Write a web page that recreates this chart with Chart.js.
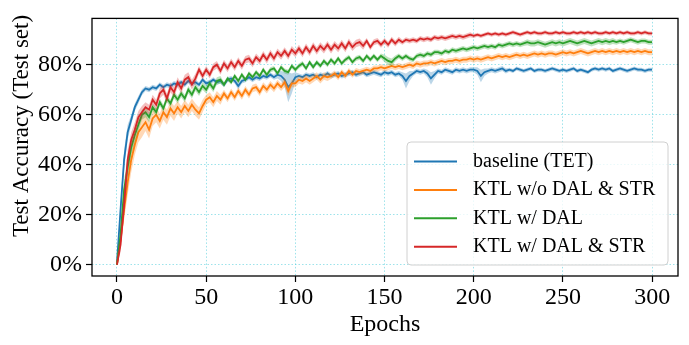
<!DOCTYPE html>
<html><head><meta charset="utf-8">
<script src="https://cdn.jsdelivr.net/npm/chart.js@4.4.1/dist/chart.umd.min.js"></script>
<style>html,body{margin:0;padding:0;background:#fff;}#wrap{width:689px;height:345px;}</style>
</head><body><div id="wrap"><canvas id="c" width="689" height="345"></canvas></div>
<script>
const seriesLabels = ['baseline (TET)', 'KTL w/o DAL & STR', 'KTL w/ DAL', 'KTL w/ DAL & STR'];
const seriesColors = ['#1f77b4', '#ff7f0e', '#2ca02c', '#d62728'];
const xTickValues = [0, 50, 100, 150, 200, 250, 300];
const yTickValues = [0, 20, 40, 60, 80];
const xAxisTitle = 'Epochs';
const yAxisTitle = 'Test Accuracy (Test set)';

// epochs 0,2,4,...,300
const epochs = [];
for (let e = 0; e <= 300; e += 2) epochs.push(e);

const baselineAcc = [
 1,22,42,53,58,63,66,69,70.5,70,
 71,70.5,72,71,72,71.5,72.5,72,73,72,
 73.5,72.5,73,72,74,72.5,73,74,73,73.5,
 72,74,74.5,73.5,71.5,73.5,74,75,74,75,
 74.5,75.5,75,76,75,76,75.5,74,71,72.5,
 75,75.5,75,76,75.5,76,75,76,75.5,76.5,
 75.5,76,76.5,75.5,76,76.5,77,76,76.5,77,
 76,76.5,77,76.5,76,77,76.5,77,76,76.5,
 75.5,73.5,75.5,76.5,77.5,77,77.5,76.5,74.5,76,
 77.5,77,78,77.5,77,78,77.5,78,77.5,78,
 78,77.5,75.5,77,77.5,78,77.5,78,78.5,77.5,
 78,77.5,78.5,78,77.5,78,78.5,77.5,78,78,
 77.5,78,78.5,78,77.5,78,77.5,78,78.5,77.5,
 78,77.5,77,78,78.5,78,78.5,78,78.5,77.5,
 78,78.5,78,77.5,78,78.5,78,78,77.5,78,
 78];
const baselineSpread = [
 0,3,4,3,2,1.5,1.5,1.2,1,1,
 1,1,1,1,1,1,1,1,1,1,
 1,1,1,1,1,1,1,1,1,1,
 1,1,1,1,1.5,1,1,1,1,1,
 1,1,1,1,1,1.5,2,3,6,4,
 2,1,1,1,1,1,1,1,1,1,
 1,1,1,1,1,1,1,1,1,1,
 1,1,1,1,1,1,1,1,1,1,
 1.5,3,2,1,1,1,1,1.5,2.5,1.5,
 1,1,1,1,1,1,1,1,1,1,
 1,1.5,2.5,1.5,1,1,1,1,1,1,
 0.8,0.8,0.8,0.8,0.8,0.8,0.8,0.8,0.8,0.8,
 0.8,0.8,0.8,0.8,0.8,0.8,0.8,0.8,0.8,0.8,
 0.8,0.8,0.8,0.8,0.8,0.8,0.8,0.8,0.8,0.8,
 0.8,0.8,0.8,0.8,0.8,0.8,0.8,0.8,0.8,0.8,
 0.8];

const woDalStrAcc = [
 0,10,22,33,42,48,53,55,57,54,
 58.5,60,57.5,61,59,62.5,60.5,63,61,63.5,
 61.5,64,62,60.5,63.5,66,67,65,67.5,66,
 68.5,66.5,69,67,69.5,67.5,70,68,70.5,71,
 69,71.5,70,72,70.5,72.5,71,73,69.5,72.5,
 72.5,74,73.5,74.5,73.5,74.5,75.5,74,75.5,75,
 75.5,76.5,75,77,75.5,77.5,76,77.5,77,77.5,
 78,77.5,78.5,78.5,79,78.5,79,79.5,79,79.5,
 79,79.5,80,79.5,80.5,80,80.5,80.5,81,80.5,
 81,81.5,81,81.5,81.5,82,81.5,82,82,82.5,
 82,82.5,82,82.5,83,82.5,83,83.5,83,83.5,
 83,83.5,84,83.5,84,83.5,84,84.5,84,84.5,
 84,84.5,84.5,84,84.5,85,84.5,85,84.5,85,
 85.5,85,84.5,85,85.5,85,85.5,85,85.5,85,
 85.5,85,85.5,85,85.5,85,85.5,85,85.5,85,
 85];
const woDalStrSpread = [
 0,3,4,5,5,4,4,4,3.5,3.5,
 3,3,3,3,3,3,3,2.5,2.5,2.5,
 2.5,2.5,2.5,2.5,2.5,2,2,2,2,2,
 1.5,1.5,1.5,1.5,1.5,1.5,1.5,1.5,1.5,1.5,
 1.5,1.5,1.5,1.5,1.5,1.5,1.5,2,2,1.5,
 1.5,1.5,1.5,1.5,1.5,1.5,1.5,1.5,1.5,1.5,
 1.2,1.2,1.2,1.2,1.2,1.2,1.2,1.2,1.2,1.2,
 1.2,1.2,1.2,1.2,1.2,1.2,1.2,1.2,1.2,1.2,
 1.2,1.2,1.2,1.2,1.2,1.2,1.2,1.2,1.2,1.2,
 1.2,1.2,1.2,1.2,1.2,1.2,1.2,1.2,1.2,1.2,
 1.2,1.2,1.2,1.2,1.2,1.2,1.2,1.2,1.2,1.2,
 1.2,1.2,1.2,1.2,1.2,1.2,1.2,1.2,1.2,1.2,
 1.2,1.2,1.2,1.2,1.2,1.2,1.2,1.2,1.2,1.2,
 1.2,1.2,1.2,1.2,1.2,1.2,1.2,1.2,1.2,1.2,
 1.2,1.2,1.2,1.2,1.2,1.2,1.2,1.2,1.2,1.2,
 1.2];

const wDalAcc = [
 0,12,30,39,47,52,56,60,61,59,
 63,61,65,62.5,66.5,64.5,68,66,68.5,66.5,
 70,68,71,69,71.5,70,72.5,70.5,73.5,74,
 72,74.5,73,75.5,73.5,76,74,76.5,75,77,
 75.5,78,76,78,78.5,76.5,79,77.5,77,79.5,
 78,79.5,80.5,78.5,81,79,81,79.5,81.5,80,
 82,80.5,82.5,80.5,82,83,81,82.5,83,81.5,
 83.5,82,83.5,82,83.5,82.5,81.5,81,82.5,83.5,
 82.5,83.5,82.5,82,83.5,84,83.5,84.5,84,85,
 85,84.5,85.5,85,86,85.5,86,86.5,86,86.5,
 87,86.5,87,87.5,87,87.5,87,88,87.5,88,
 88.5,88,88.5,88,88.5,89,88.5,88.5,89,88.5,
 88,88.5,89,88.5,89,88.5,89,89.5,89,88.5,
 89,89.5,89,88.5,89,89.5,89,89.5,89,89.5,
 89,89.5,89,89.5,90,89.5,89,89.5,89.5,89,
 89];
const wDalSpread = [
 0,3,4,4,3,3,2.5,2,2,2,
 1.5,1.5,1.5,1.5,1.5,1.5,1.5,1.5,1.5,1.5,
 1.5,1.5,1.5,1.5,1.5,1.5,1.5,1.5,1.5,1.5,
 1,1,1,1,1,1,1,1,1,1,
 1,1,1,1,1,1,1,1,1,1,
 1,1,1,1,1,1,1,1,1,1,
 1,1,1,1,1,1,1,1,1,1,
 1,1,1,1,1,1.5,1.5,1.5,1.2,1,
 1,1,1,1,1,1,1,1,1,1,
 1,1,1,1,1,1,1,1,1,1,
 1,1,1,1,1,1,1,1,1,1,
 1,1,1,1,1,1.2,1.2,1.2,1.2,1.2,
 1.2,1.2,1.2,1.2,1.2,1.2,1.2,1.2,1.2,1.2,
 1.2,1.2,1.2,1.2,1.2,1.2,1.2,1.2,1.2,1.2,
 1,1,1,1,1,1,1,1,1,1,
 1];

const wDalStrAcc = [
 0,8,24,42,50,54,59,61,63,62,
 66,64,68.5,70,66.5,71,69,73,70.5,74,
 75,72,74.5,78,75.5,78,76,79,80,77.5,
 80.5,78.5,81,79,81.5,79.5,82,82.5,80.5,83,
 81.5,84,82,84.5,82.5,85,83.5,85.5,83.5,86,
 84.5,86.5,84.5,87,85,87.5,85.5,87.5,86,88,
 86,88,86.5,88.5,86.5,89,87,88.5,89,87.5,
 89.5,87,89,89.5,88,89.5,88,90,88.5,90,
 89,90,89.5,90,89.5,90.5,90,90.5,90,91,
 90.5,91,90.5,91,91.5,91,91.5,91,91.5,92,
 91.5,92,91.5,92,92.5,92,92.5,92,92.5,92,
 92.5,93,92.5,92,92.5,93,92.5,93,92.5,92.5,
 93,92.5,92.5,93,92.5,93,92.5,92.5,93,92.5,
 93,92.5,93,92.5,93,92.5,92.5,93,92.5,93,
 92.5,93,92.5,93,92.5,92.5,93,92.5,93,92.5,
 92.5];
const wDalStrSpread = [
 0,3,4,4,3,3,2.5,2.5,2,2,
 2,2,2,2,2,2,2,2,2,2,
 2,2,2,1.5,1.5,1.5,1.5,1.5,1.5,1.5,
 1.5,1.5,1.5,1.5,1.5,1.5,1.5,1.5,1.5,1.5,
 1.5,1.5,1.5,1.5,1.5,1.5,1.5,1.5,1.5,1.5,
 1.5,1.5,1.5,1.5,1.5,1.5,1.5,1.5,1.5,1.5,
 1.5,1.5,1.5,1.5,1.5,1.5,1.5,1.5,1.5,1.5,
 1.2,1.2,1.2,1.2,1.2,1.2,1.2,1.2,1.2,1.2,
 1,1,1,1,1,1,1,1,1,1,
 1,1,1,1,1,1,1,1,1,1,
 0.8,0.8,0.8,0.8,0.8,0.8,0.8,0.8,0.8,0.8,
 0.8,0.8,0.8,0.8,0.8,0.8,0.8,0.8,0.8,0.8,
 0.8,0.8,0.8,0.8,0.8,0.8,0.8,0.8,0.8,0.8,
 0.8,0.8,0.8,0.8,0.8,0.8,0.8,0.8,0.8,0.8,
 0.8,0.8,0.8,0.8,0.8,0.8,0.8,0.8,0.8,0.8,
 0.8];

const seriesMeans = [baselineAcc, woDalStrAcc, wDalAcc, wDalStrAcc];
const seriesSpreads = [baselineSpread, woDalStrSpread, wDalSpread, wDalStrSpread];

const FONT = "'Liberation Serif', 'Times New Roman', serif";

function hexA(hex, a) {
  const n = parseInt(hex.slice(1), 16);
  return `rgba(${(n >> 16) & 255},${(n >> 8) & 255},${n & 255},${a})`;
}

const datasets = [];
seriesMeans.forEach((mean, i) => {
  const sp = seriesSpreads[i];
  const order = 2 * (seriesMeans.length - i);
  datasets.push({
    label: '_upper' + i,
    data: epochs.map((e, k) => ({ x: e, y: mean[k] + sp[k] })),
    borderWidth: 0, pointRadius: 0, fill: false, order: order,
    borderColor: 'rgba(0,0,0,0)'
  });
  datasets.push({
    label: '_lower' + i,
    data: epochs.map((e, k) => ({ x: e, y: mean[k] - sp[k] })),
    borderWidth: 0, pointRadius: 0, fill: '-1', order: order,
    borderColor: 'rgba(0,0,0,0)', backgroundColor: hexA(seriesColors[i], 0.3)
  });
  datasets.push({
    label: seriesLabels[i],
    data: epochs.map((e, k) => ({ x: e, y: mean[k] })),
    borderColor: seriesColors[i], borderWidth: 1.8, pointRadius: 0,
    fill: false, tension: 0, order: order - 1
  });
});

const framePlugin = {
  id: 'frame',
  afterDatasetsDraw(chart) {
    const { ctx, chartArea: a } = chart;
    ctx.save();
    ctx.strokeStyle = '#000';
    ctx.lineWidth = 1.3;
    ctx.strokeRect(a.left, a.top, a.right - a.left, a.bottom - a.top);
    ctx.restore();
  }
};

const yTitlePlugin = {
  id: 'ytitle',
  afterDraw(chart) {
    const { ctx } = chart;
    ctx.save();
    ctx.translate(22, 126);
    ctx.rotate(-Math.PI / 2);
    ctx.font = `23px ${FONT}`;
    ctx.fillStyle = '#000';
    ctx.textAlign = 'center';
    ctx.textBaseline = 'middle';
    ctx.fillText(yAxisTitle, 0, 0);
    ctx.restore();
  }
};

const legendPlugin = {
  id: 'innerLegend',
  afterDraw(chart) {
    const { ctx, chartArea: a } = chart;
    const w = 261, h = 123;
    const x = a.right - 10 - w, y = a.bottom - 11 - h;
    ctx.save();
    ctx.beginPath();
    ctx.roundRect(x, y, w, h, 4);
    ctx.fillStyle = 'rgba(255,255,255,0.8)';
    ctx.fill();
    ctx.strokeStyle = '#d0d0d0';
    ctx.lineWidth = 1;
    ctx.stroke();
    ctx.font = `20px ${FONT}`;
    ctx.textBaseline = 'middle';
    ctx.textAlign = 'left';
    seriesLabels.forEach((lab, i) => {
      const ry = y + 19.5 + i * 28.4;
      ctx.strokeStyle = seriesColors[i];
      ctx.lineWidth = 2;
      ctx.beginPath();
      ctx.moveTo(x + 7, ry);
      ctx.lineTo(x + 50, ry);
      ctx.stroke();
      ctx.fillStyle = '#000';
      ctx.fillText(lab, x + 66, ry);
    });
    ctx.restore();
  }
};

const gridColor = 'rgba(60,200,215,0.5)';

new Chart(document.getElementById('c'), {
  type: 'line',
  data: { datasets },
  options: {
    responsive: false,
    animation: false,
    devicePixelRatio: 1,
    layout: { padding: { left: 0, right: 11, top: 10, bottom: 0 } },
    plugins: { legend: { display: false }, tooltip: { enabled: false }, filler: { propagate: false } },
    scales: {
      x: {
        type: 'linear', min: -14, max: 314.5,
        afterBuildTicks: s => { s.ticks = xTickValues.map(v => ({ value: v })); },
        afterFit: s => { s.height = 69; },
        ticks: { font: { family: FONT, size: 24 }, color: '#000', padding: 1, maxRotation: 0, autoSkip: false },
        grid: { color: gridColor, lineWidth: 1, drawTicks: true, tickLength: 6, tickColor: '#000', tickWidth: 1.2 },
        border: { display: false, dash: [1.5, 2] },
        title: { display: true, text: xAxisTitle, color: '#000', font: { family: FONT, size: 24 }, padding: { top: 0, bottom: 6 } }
      },
      y: {
        type: 'linear', min: -4.5, max: 98.5,
        afterBuildTicks: s => { s.ticks = yTickValues.map(v => ({ value: v })); },
        afterFit: s => { s.width = 92; },
        ticks: { font: { family: FONT, size: 24 }, color: '#000', padding: 4, callback: v => v + '%' },
        grid: { color: gridColor, lineWidth: 1, drawTicks: true, tickLength: 6, tickColor: '#000', tickWidth: 1.2 },
        border: { display: false, dash: [1.5, 2] }
      }
    }
  },
  plugins: [framePlugin, yTitlePlugin, legendPlugin]
});
</script>
</body></html>
